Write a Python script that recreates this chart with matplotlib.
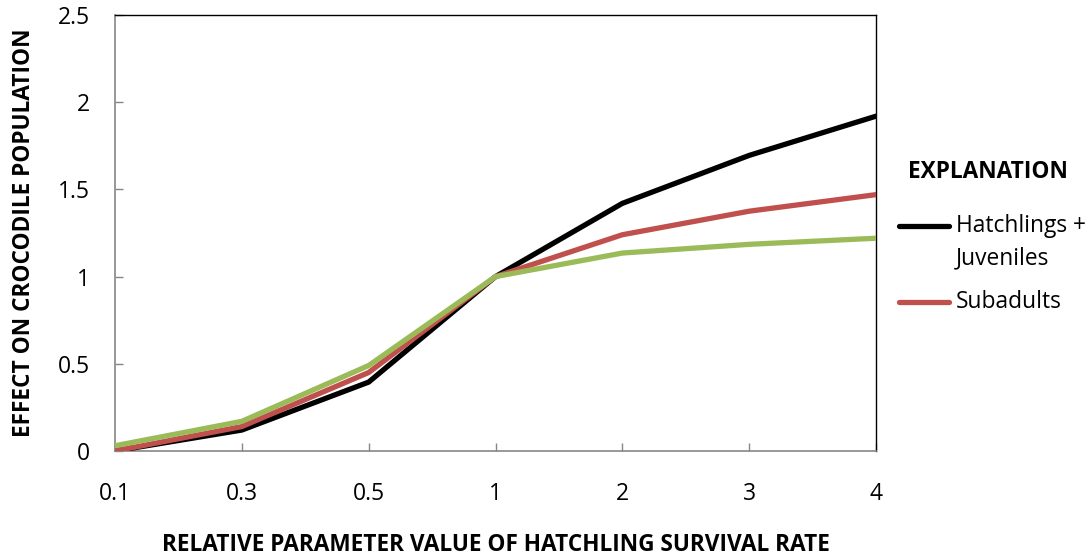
import matplotlib
matplotlib.use("Agg")
import matplotlib.pyplot as plt
from matplotlib.lines import Line2D

plt.rcParams['font.family'] = ['Open Sans', 'DejaVu Sans']

# data
categories = ["0.1", "0.3", "0.5", "1", "2", "3", "4"]
hatch_juv = [0.0, 0.12, 0.395, 1.0, 1.42, 1.695, 1.92]
subadults = [0.0, 0.14, 0.45, 1.0, 1.24, 1.375, 1.47]
third_series = [0.03, 0.17, 0.49, 1.0, 1.135, 1.185, 1.22]
yticks = [0, 0.5, 1, 1.5, 2, 2.5]
ytick_labels = ["0", "0.5", "1", "1.5", "2", "2.5"]

black = "#000000"
red = "#C0504D"
green = "#9BBB59"
gray = "#868686"

fig = plt.figure(figsize=(10.91, 5.58), dpi=100)
ax = fig.add_axes([0.1054, 0.1918, 0.6976, 0.7813])

x = list(range(len(categories)))
ax.plot(x, hatch_juv, color=black, lw=3.8, solid_capstyle='round', zorder=3)
ax.plot(x, subadults, color=red, lw=3.8, solid_capstyle='round', zorder=4)
ax.plot(x, third_series, color=green, lw=3.8, solid_capstyle='round', zorder=5)

ax.set_xlim(0, len(categories) - 1)
ax.set_ylim(0, 2.5)
ax.set_xticks(x)
ax.set_xticklabels(categories)
ax.set_yticks(yticks)
ax.set_yticklabels(ytick_labels)

ax.tick_params(axis='both', direction='in', length=6, width=1, color=gray,
               labelsize=16.5)
ax.tick_params(axis='x', pad=22)
ax.tick_params(axis='y', pad=18)

for side in ['left', 'bottom']:
    ax.spines[side].set_color(gray)
    ax.spines[side].set_linewidth(1.2)
for side in ['top', 'right']:
    ax.spines[side].set_color(black)
    ax.spines[side].set_linewidth(1.0)

ax.set_xlabel("RELATIVE PARAMETER VALUE OF HATCHLING SURVIVAL RATE",
              fontsize=16.3, fontweight='bold', labelpad=20)
ax.set_ylabel("EFFECT ON CROCODILE POPULATION",
              fontsize=16.3, fontweight='bold', labelpad=16)

# legend drawn by hand, like the original "EXPLANATION" box
fig.text(0.832, 1 - 172 / 558, "EXPLANATION", fontsize=16.3, fontweight='bold',
         va='center', ha='left')
fig.add_artist(Line2D([0.824, 0.870], [1 - 226 / 558, 1 - 226 / 558],
                      color=black, lw=3.8, solid_capstyle='round',
                      transform=fig.transFigure))
fig.add_artist(Line2D([0.824, 0.870], [1 - 302 / 558, 1 - 302 / 558],
                      color=red, lw=3.8, solid_capstyle='round',
                      transform=fig.transFigure))
fig.text(0.876, 1 - 226 / 558, "Hatchlings +", fontsize=16.4, va='center')
fig.text(0.876, 1 - 258 / 558, "Juveniles", fontsize=16.4, va='center')
fig.text(0.876, 1 - 302 / 558, "Subadults", fontsize=16.4, va='center')

fig.savefig("out.png", dpi=100)
